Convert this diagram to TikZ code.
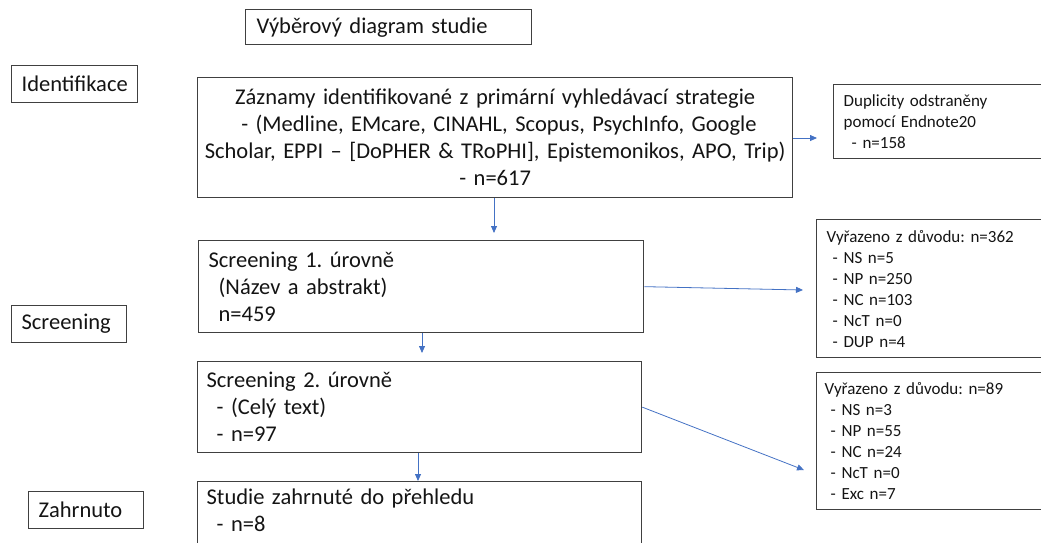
\documentclass[tikz,border=0pt]{standalone}
\usepackage{fontspec}
\setmainfont{Carlito}
\usetikzlibrary{arrows.meta}
\definecolor{boxline}{RGB}{64,64,64}
\definecolor{arrblue}{RGB}{68,114,196}
\definecolor{txt}{RGB}{20,20,20}
\begin{document}
\frenchspacing
\begin{tikzpicture}[x=1pt,y=-1pt,
  box/.style={draw=boxline, line width=1.3pt, rectangle, anchor=north west, inner ysep=0pt, text=txt},
  big/.style={font=\fontsize{22.5}{27}\selectfont},
  small/.style={font=\fontsize{17}{21}\selectfont},
  arr/.style={draw=arrblue, line width=0.8pt, -{Triangle[length=7pt,width=6pt]}}]
\useasboundingbox (0,0) rectangle (1041,542);

% title and stage labels
\node[box,big,align=left,inner xsep=11pt,text width=264pt,minimum height=35pt] (title) at (245,9) {Výběrový diagram studie};
\node[box,big,align=left,inner xsep=10pt,text width=106pt,minimum height=37pt] (lid) at (11,65) {Identifikace};
\node[box,big,align=left,inner xsep=10pt,text width=95pt,minimum height=37pt] (lscr) at (11,305) {Screening};
\node[box,big,align=left,inner xsep=10pt,text width=95pt,minimum height=37pt] (lzah) at (28,491) {Zahrnuto};

% main flow
\node[box,big,align=center,inner xsep=4pt,text width=587pt,minimum height=120pt] (main) at (197,77)
  {Záznamy identifikované z primární vyhledávací strategie\\
   \ - (Medline, EMcare, CINAHL, Scopus, PsychInfo, Google\\
   Scholar, EPPI – [DoPHER \& TRoPHI], Epistemonikos, APO, Trip)\\
   - n=617};
\node[box,big,align=left,inner xsep=10pt,text width=425pt,minimum height=92pt] (s1) at (198,240)
  {Screening 1. úrovně\\
   \hspace*{10pt}(Název a abstrakt)\\
   \hspace*{10pt}n=459};
\node[box,big,align=left,inner xsep=9pt,text width=426pt,minimum height=91pt] (s2) at (197,361)
  {Screening 2. úrovně\\
   \hspace*{10pt}- (Celý text)\\
   \hspace*{10pt}- n=97};
\node[box,big,align=left,inner xsep=9pt,text width=426pt,minimum height=92pt] (stud) at (197,481)
  {Studie zahrnuté do přehledu\\
   \hspace*{10pt}- n=8\\
   \strut};

% side boxes
\node[box,small,align=left,inner xsep=10pt,text width=192pt,minimum height=74pt] (dup) at (833,84)
  {Duplicity odstraněny\\
   pomocí Endnote20\\
   \hspace*{8pt}- n=158};
\node[box,small,align=left,inner xsep=10pt,text width=209pt,minimum height=138pt] (ex1) at (816,219)
  {Vyřazeno z důvodu: n=362\\
   \hspace*{6pt}- NS n=5\\
   \hspace*{6pt}- NP n=250\\
   \hspace*{6pt}- NC n=103\\
   \hspace*{6pt}- NcT n=0\\
   \hspace*{6pt}- DUP n=4};
\node[box,small,align=left,inner xsep=8pt,text width=213pt,minimum height=137pt] (ex2) at (816,372)
  {Vyřazeno z důvodu: n=89\\
   \hspace*{6pt}- NS n=3\\
   \hspace*{6pt}- NP n=55\\
   \hspace*{6pt}- NC n=24\\
   \hspace*{6pt}- NcT n=0\\
   \hspace*{6pt}- Exc n=7};

% connectors
\coordinate (t1) at (494,233);
\coordinate (t2) at (817,138);
\coordinate (t3) at (422,353);
\coordinate (t4) at (803,290);
\coordinate (t5) at (804,470);
\coordinate (c6) at (418,0);
\draw[arr] (main.south -| t1) -- (t1);
\draw[arr] (main.east |- t2) -- (t2);
\draw[arr] (s1.south -| t3) -- (t3);
\draw[arr] (s1.east) -- (t4);
\draw[arr] (s2.east) -- (t5);
\draw[arr] (s2.south -| c6) -- (stud.north -| c6);
\end{tikzpicture}
\end{document}
